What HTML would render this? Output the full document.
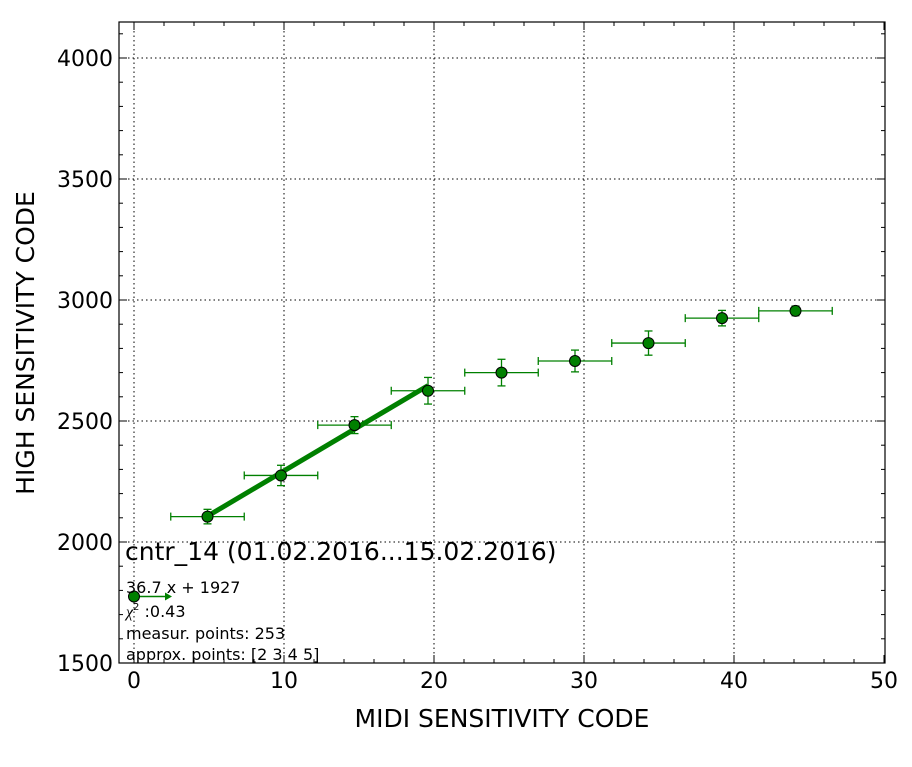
<!DOCTYPE html>
<html><head><meta charset="utf-8"><style>
body{margin:0;background:#fff;}
svg text{font-family:"DejaVu Sans","Liberation Sans",sans-serif;}
</style></head><body>
<svg id="chart" width="912" height="762" xmlns="http://www.w3.org/2000/svg">
<rect width="912" height="762" fill="#fff"/>
<g id="grid"></g>
<g id="ticks"></g>
<g id="series"></g>
<rect x="119" y="22" width="766" height="641" fill="none" stroke="#000" stroke-width="1.2"/>
<text x="502" y="727" font-size="25" text-anchor="middle">MIDI SENSITIVITY CODE</text>
<text transform="translate(34,343) rotate(-90)" font-size="25" text-anchor="middle">HIGH SENSITIVITY CODE</text>
<text x="125" y="560" font-size="25">cntr_14 (01.02.2016...15.02.2016)</text>
<text x="126" y="593" font-size="16">36.7 x + 1927</text>
<text x="126" y="617" font-size="16"><tspan font-family="Liberation Serif" font-style="italic">χ</tspan><tspan font-size="10" dy="-7">2</tspan><tspan dy="7"> :0.43</tspan></text>
<text x="126" y="639" font-size="16">measur. points: 253</text>
<text x="126" y="660" font-size="16">approx. points: [2 3 4 5]</text>
</svg>
<script>
const xTicks=[0,10,20,30,40,50];
const yTicks=[1500,2000,2500,3000,3500,4000];
const xs=[4.9,9.8,14.7,19.6,24.5,29.4,34.3,39.2,44.1];
const ys=[2105,2275,2483,2625,2700,2748,2822,2925,2955];
const xerr=[2.45,2.45,2.45,2.45,2.45,2.45,2.45,2.45,2.45];
const yerr=[30,42,35,55,55,45,50,32,20];
const outlier=[0,1775];
const fitSlope=36.7, fitIntercept=1927, fitRange=[4.9,19.6];
const X=v=>134+15*v, Y=v=>663-(v-1500)*0.242;
const NS="http://www.w3.org/2000/svg";
function mk(p,t,a){const e=document.createElementNS(NS,t);for(const k in a)e.setAttribute(k,a[k]);p.appendChild(e);return e;}
const grid=document.getElementById('grid'),ticks=document.getElementById('ticks'),ser=document.getElementById('series');
xTicks.forEach(t=>{const x=X(t);
 if(t>-1&&t<50){const g=mk(grid,'line',{x1:x,x2:x,y1:22,y2:663,stroke:'#000','stroke-dasharray':'1.5,3','stroke-width':1});
 
 }
 const l=mk(ticks,'text',{x:x,y:688,'font-size':22,'text-anchor':'middle'});l.textContent=t;
 
 
 mk(ticks,'line',{x1:x,x2:x,y1:663,y2:655,stroke:'#000'});mk(ticks,'line',{x1:x,x2:x,y1:22,y2:30,stroke:'#000'});});
for(let m=0;m<50;m+=2){const x=X(m);mk(ticks,'line',{x1:x,x2:x,y1:663,y2:659,stroke:'#000'});mk(ticks,'line',{x1:x,x2:x,y1:22,y2:26,stroke:'#000'});}
for(let m=1500;m<=4100;m+=100){const y=Y(m);mk(ticks,'line',{x1:119,x2:123,y1:y,y2:y,stroke:'#000'});mk(ticks,'line',{x1:881,x2:885,y1:y,y2:y,stroke:'#000'});}
yTicks.forEach(t=>{const y=Y(t);
 if(t>1500){const g=mk(grid,'line',{x1:119,x2:885,y1:y,y2:y,stroke:'#000','stroke-dasharray':'1.5,3','stroke-width':1});
 
 }
 const l=mk(ticks,'text',{x:113,y:y+8,'font-size':22,'text-anchor':'end'});l.textContent=t;
 
 
 mk(ticks,'line',{x1:119,x2:127,y1:y,y2:y,stroke:'#000'});mk(ticks,'line',{x1:877,x2:885,y1:y,y2:y,stroke:'#000'});});
const fit=mk(ser,'line',{x1:X(fitRange[0]),y1:Y(fitSlope*fitRange[0]+fitIntercept),x2:X(fitRange[1]),y2:Y(fitSlope*fitRange[1]+fitIntercept),stroke:'#008000','stroke-width':5});


const gc='#008000';
xs.forEach((v,i)=>{const cx=X(v),cy=Y(ys[i]);
 const x1=X(v-xerr[i]),x2=X(v+xerr[i]),y1=Y(ys[i]-yerr[i]),y2=Y(ys[i]+yerr[i]);
 const g=mk(ser,'g',{});
 
 
 mk(g,'line',{x1:x1,x2:x2,y1:cy,y2:cy,stroke:gc,'stroke-width':1.3});
 mk(g,'line',{x1:x1,x2:x1,y1:cy-4,y2:cy+4,stroke:gc,'stroke-width':1.3});
 mk(g,'line',{x1:x2,x2:x2,y1:cy-4,y2:cy+4,stroke:gc,'stroke-width':1.3});
 mk(g,'line',{x1:cx,x2:cx,y1:y1,y2:y2,stroke:gc,'stroke-width':1.3});
 mk(g,'line',{x1:cx-4,x2:cx+4,y1:y1,y2:y1,stroke:gc,'stroke-width':1.3});
 mk(g,'line',{x1:cx-4,x2:cx+4,y1:y2,y2:y2,stroke:gc,'stroke-width':1.3});
 mk(g,'circle',{cx:cx,cy:cy,r:5.5,fill:gc,stroke:'#000','stroke-width':1});});
const og=mk(ser,'g',{});


const ox=X(outlier[0]),oy=Y(outlier[1]);
mk(og,'line',{x1:ox,x2:ox+32,y1:oy,y2:oy,stroke:gc,'stroke-width':1.5});
mk(og,'polygon',{points:`${ox+38},${oy} ${ox+31},${oy-4} ${ox+31},${oy+4}`,fill:gc});
mk(og,'circle',{cx:ox,cy:oy,r:5.5,fill:gc,stroke:'#000','stroke-width':1});
</script>
</body></html>
